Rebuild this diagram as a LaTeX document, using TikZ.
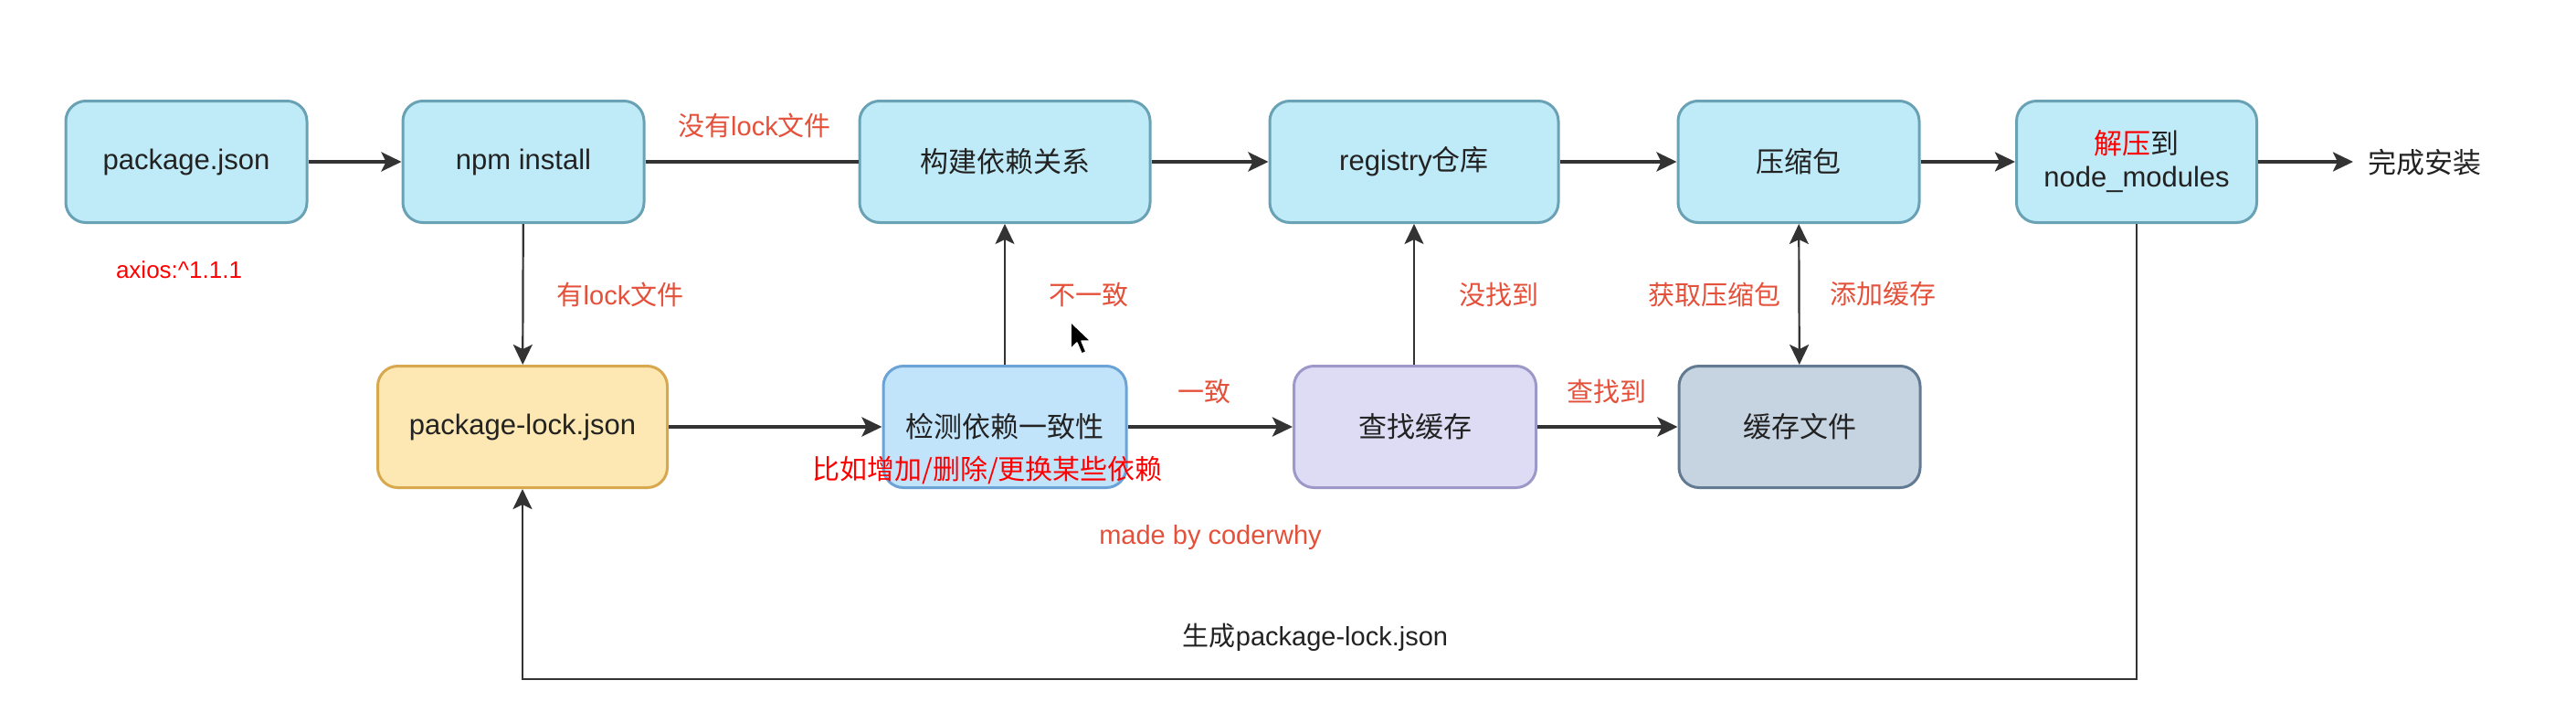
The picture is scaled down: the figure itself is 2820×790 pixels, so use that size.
\documentclass[tikz,border=0pt]{standalone}
\usepackage{fontspec}
\setmainfont{Liberation Sans}
\newfontfamily\cjk{Noto Sans CJK SC}
\usetikzlibrary{arrows.meta}
\definecolor{topfill}{HTML}{BFEAF7}
\definecolor{topdraw}{HTML}{6AA2B5}
\definecolor{lockfill}{HTML}{FDE8B3}
\definecolor{lockdraw}{HTML}{D7A84E}
\definecolor{chkfill}{HTML}{C2E4FB}
\definecolor{chkdraw}{HTML}{6BA3D6}
\definecolor{findfill}{HTML}{DEDCF5}
\definecolor{finddraw}{HTML}{9C98C8}
\definecolor{cachefill}{HTML}{C6D4E2}
\definecolor{cachedraw}{HTML}{627A92}
\definecolor{txt}{HTML}{222222}
\definecolor{lblred}{HTML}{E4503A}
\definecolor{pured}{HTML}{FF0000}
\definecolor{lc}{HTML}{333333}
\newcommand\zh[1]{{\cjk #1}}
\newcommand\boxfont{\fontsize{31}{38}\selectfont}
\newcommand\lblfont{\fontsize{29}{34}\selectfont}
\tikzset{
  box/.style={draw, line width=3pt, rounded corners=22pt, minimum height=133pt,
    align=center, font=\boxfont, text=txt, inner sep=0pt},
  topbox/.style={box, fill=topfill, draw=topdraw},
  lbl/.style={text=lblred, font=\lblfont, inner sep=0pt},
  redtxt/.style={text=pured, inner sep=0pt},
  hconn/.style={draw=lc, line width=3.2pt, -{Stealth[length=22pt,width=21pt,inset=5pt]}},
  vconn/.style={draw=lc, line width=2.2pt, -{Stealth[length=22pt,width=21pt,inset=5pt]}},
  plain/.style={draw=lc, line width=3.2pt},
}
\begin{document}
\begin{tikzpicture}[x=1pt,y=-1pt]
\useasboundingbox (0,0) rectangle (2820,790);
\fill[white] (0,0) rectangle (2820,790);

% top row
\node[topbox, minimum width=264pt] (pj) at (204,177) {package.json};
\node[topbox, minimum width=264pt] (npm) at (573,177) {npm install};
\node[topbox, minimum width=318pt] (gj) at (1100,177) {\zh{构建依赖关系}};
\node[topbox, minimum width=316pt] (reg) at (1548,177) {registry\zh{仓库}};
\node[topbox, minimum width=264pt] (ysb) at (1969,177) {\zh{压缩包}};
\node[topbox, minimum width=263pt] (nm) at (2339,177) {\zh{{\color{pured}解压}到}\\[-2pt]node\_modules};
\node[anchor=west, inner xsep=16pt, inner ysep=0pt, font=\boxfont, text=txt] (done) at (2576,178) {\zh{完成安装}};

% bottom row
\node[box, fill=lockfill, draw=lockdraw, minimum width=317pt] (plj) at (572,467) {package-lock.json};
\node[box, fill=chkfill, draw=chkdraw, minimum width=266pt] (jc) at (1100,467) {\zh{检测依赖一致性}};
\node[box, fill=findfill, draw=finddraw, minimum width=265pt] (cz) at (1549,467) {\zh{查找缓存}};
\node[box, fill=cachefill, draw=cachedraw, minimum width=264pt] (hc) at (1970,467) {\zh{缓存文件}};

% connectors
\draw[hconn] (pj) -- (npm);
\draw[plain] (npm) -- (gj);
\draw[hconn] (gj) -- (reg);
\draw[hconn] (reg) -- (ysb);
\draw[hconn] (ysb) -- (nm);
\draw[hconn] (nm.east) -- (nm.east -| done.west);
\draw[vconn] (npm) -- (plj);
\draw[hconn] (plj) -- (jc);
\draw[vconn] (jc) -- (gj);
\draw[hconn] (jc) -- (cz);
\draw[vconn] (cz.north -| reg) -- (reg);
\draw[hconn] (cz) -- (hc);
\draw[draw=lc, line width=2.2pt, {Stealth[length=22pt,width=21pt,inset=5pt]}-{Stealth[length=22pt,width=21pt,inset=5pt]}] (ysb) -- (hc);
\coordinate (bot) at (0,743);
\draw[draw=lc, line width=2.6pt, -{Stealth[length=22pt,width=21pt,inset=5pt]}] (nm.south) -- (nm.south |- bot) -| (plj.south);

% labels
\node[lbl] (l1) at (826,137) {\zh{没有}lock\zh{文件}};
\node[lbl] (l2) at (679,322) {\zh{有}lock\zh{文件}};
\node[lbl] (l3) at (1192,322) {\zh{不一致}};
\node[lbl] (l4) at (1318,428) {\zh{一致}};
\node[lbl] (l5) at (1641,322) {\zh{没找到}};
\node[lbl] (l6) at (1759,428) {\zh{查找到}};
\node[lbl] (l7) at (1877,322) {\zh{获取压缩包}};
\node[lbl] (l8) at (2061,322) {\zh{添加缓存}};
\node[lbl] (made) at (1325,588) {made by coderwhy};
\node[inner sep=0pt, font=\lblfont, text=txt] (gen) at (1440,697) {\zh{生成}package-lock.json};
\node[redtxt, font=\fontsize{26}{30}\selectfont] (axios) at (196,295) {axios:\^{}1.1.1};
\node[redtxt, font=\fontsize{30}{34}\selectfont] (note) at (1081,514) {\zh{比如增加/删除/更换某些依赖}};

% mouse cursor
\filldraw[fill=black, draw=white, line width=1.5pt, line join=round]
  (1172,352) -- (1172,382) -- (1179,375) -- (1184,387) -- (1189,385) -- (1184,373) -- (1194,373) -- cycle;
\end{tikzpicture}
\end{document}
